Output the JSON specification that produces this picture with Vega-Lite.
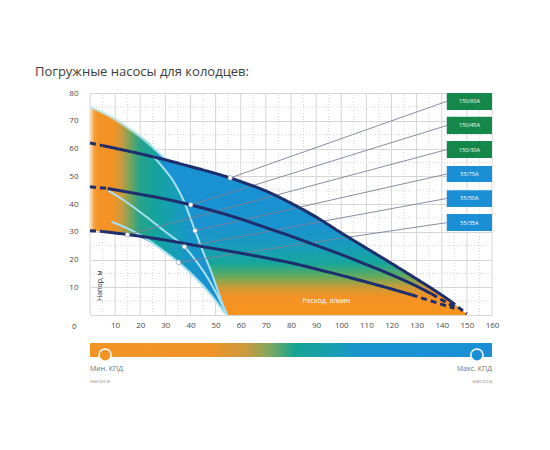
{
  "$schema": "https://vega.github.io/schema/vega-lite/v6.json",
  "padding": {"left": 35, "top": 66, "right": 5, "bottom": 5},
  "background": "white",
  "width": 402,
  "height": 297,
  "config": {
    "font": "Open Sans",
    "view": {"stroke": null}
  },
  "title": {
    "text": "Погружные насосы для колодцев:",
    "anchor": "start",
    "frame": "group",
    "dx": -55,
    "offset": 10,
    "fontSize": 13,
    "fontWeight": "normal",
    "font": "Open Sans",
    "color": "#3d3d3d"
  },
  "datasets": {
    "majorV": [
      {"x": 0, "y": 0, "y2": 80}, {"x": 10, "y": 0, "y2": 80}, {"x": 20, "y": 0, "y2": 80},
      {"x": 30, "y": 0, "y2": 80}, {"x": 40, "y": 0, "y2": 80}, {"x": 50, "y": 0, "y2": 80},
      {"x": 60, "y": 0, "y2": 80}, {"x": 70, "y": 0, "y2": 80}, {"x": 80, "y": 0, "y2": 80},
      {"x": 90, "y": 0, "y2": 80}, {"x": 100, "y": 0, "y2": 80}, {"x": 110, "y": 0, "y2": 80},
      {"x": 120, "y": 0, "y2": 80}, {"x": 130, "y": 0, "y2": 80}, {"x": 140, "y": 0, "y2": 80},
      {"x": 150, "y": 0, "y2": 80}, {"x": 160, "y": 0, "y2": 80}
    ],
    "minorV": [
      {"x": 5, "y": 0, "y2": 80}, {"x": 15, "y": 0, "y2": 80}, {"x": 25, "y": 0, "y2": 80},
      {"x": 35, "y": 0, "y2": 80}, {"x": 45, "y": 0, "y2": 80}, {"x": 55, "y": 0, "y2": 80},
      {"x": 65, "y": 0, "y2": 80}, {"x": 75, "y": 0, "y2": 80}, {"x": 85, "y": 0, "y2": 80},
      {"x": 95, "y": 0, "y2": 80}, {"x": 105, "y": 0, "y2": 80}, {"x": 115, "y": 0, "y2": 80},
      {"x": 125, "y": 0, "y2": 80}, {"x": 135, "y": 0, "y2": 80}, {"x": 145, "y": 0, "y2": 80},
      {"x": 155, "y": 0, "y2": 80}
    ],
    "minorH": [
      {"y": 5, "x": 0, "x2": 160}, {"y": 15, "x": 0, "x2": 160}, {"y": 25, "x": 0, "x2": 160},
      {"y": 35, "x": 0, "x2": 160}, {"y": 45, "x": 0, "x2": 160}, {"y": 55, "x": 0, "x2": 160},
      {"y": 65, "x": 0, "x2": 160}, {"y": 75, "x": 0, "x2": 160}
    ],
    "region": [
      {"x": 0, "y": 75, "y2": 30.4}, {"x": 5, "y": 73, "y2": 30.1}, {"x": 10, "y": 70.6, "y2": 29.6},
      {"x": 15, "y": 67.6, "y2": 28.9}, {"x": 20, "y": 64.4, "y2": 27.9}, {"x": 25, "y": 60.5, "y2": 25.6},
      {"x": 28.5, "y": 57.6, "y2": 23.4}, {"x": 31, "y": 55.6, "y2": 21.8}, {"x": 35, "y": 54.7, "y2": 19},
      {"x": 40, "y": 53.5, "y2": 14.8}, {"x": 45, "y": 52.3, "y2": 10.2}, {"x": 50, "y": 51, "y2": 5.2},
      {"x": 54, "y": 49.9, "y2": 1}, {"x": 55, "y": 49.6, "y2": 0}, {"x": 60, "y": 48.1, "y2": 0},
      {"x": 70, "y": 44.7, "y2": 0}, {"x": 80, "y": 40.3, "y2": 0}, {"x": 90, "y": 35.3, "y2": 0},
      {"x": 100, "y": 29.6, "y2": 0}, {"x": 110, "y": 24.1, "y2": 0}, {"x": 120, "y": 18.6, "y2": 0},
      {"x": 130, "y": 13, "y2": 0}, {"x": 140, "y": 7.2, "y2": 0}, {"x": 143.4, "y": 5.1, "y2": 0},
      {"x": 150, "y": 0.4, "y2": 0}
    ],
    "leftzone": [
      {"x": 0, "y": 75, "y2": 30.4}, {"x": 5, "y": 73, "y2": 30.1}, {"x": 10, "y": 70.6, "y2": 29.6},
      {"x": 15, "y": 67.6, "y2": 28.9}, {"x": 20, "y": 64.4, "y2": 27.9}, {"x": 25, "y": 60.5, "y2": 25.6},
      {"x": 27, "y": 57.5, "y2": 24.4}, {"x": 29, "y": 53, "y2": 23.1}, {"x": 33, "y": 48.5, "y2": 20.3},
      {"x": 37, "y": 41.8, "y2": 17.4}, {"x": 41.8, "y": 30.4, "y2": 13.4}, {"x": 45, "y": 22.8, "y2": 10.2},
      {"x": 47.8, "y": 16.6, "y2": 7.4}, {"x": 50.5, "y": 9.8, "y2": 4.7}, {"x": 53, "y": 3.4, "y2": 1.8},
      {"x": 54.5, "y": 0.2, "y2": 0.2}
    ],
    "edge": [
      {"x": 0, "y": 75}, {"x": 5, "y": 73}, {"x": 10, "y": 70.6}, {"x": 15, "y": 67.6},
      {"x": 20, "y": 64.4}, {"x": 25, "y": 60.5}, {"x": 28.5, "y": 57.6}, {"x": 31, "y": 55.6}
    ],
    "cyan": [
      {"c": "55/75A", "x": 25.5, "y": 56.8}, {"c": "55/75A", "x": 29, "y": 53.2}, {"c": "55/75A", "x": 33, "y": 48.5},
      {"c": "55/75A", "x": 37, "y": 41.8}, {"c": "55/75A", "x": 41.8, "y": 30.4}, {"c": "55/75A", "x": 45, "y": 22.8},
      {"c": "55/75A", "x": 47.8, "y": 16.6}, {"c": "55/75A", "x": 50.5, "y": 9.8}, {"c": "55/75A", "x": 53, "y": 3.4},
      {"c": "55/75A", "x": 54.5, "y": 0.2},
      {"c": "55/50A", "x": 7.3, "y": 44.8}, {"c": "55/50A", "x": 14, "y": 41}, {"c": "55/50A", "x": 21.9, "y": 35.8},
      {"c": "55/50A", "x": 30, "y": 30}, {"c": "55/50A", "x": 37.6, "y": 24.6}, {"c": "55/50A", "x": 43, "y": 18.5},
      {"c": "55/50A", "x": 47.1, "y": 13}, {"c": "55/50A", "x": 50.5, "y": 7.5}, {"c": "55/50A", "x": 53.5, "y": 2},
      {"c": "55/50A", "x": 54.5, "y": 0.2},
      {"c": "55/35A", "x": 8.6, "y": 33.6}, {"c": "55/35A", "x": 14, "y": 31.6}, {"c": "55/35A", "x": 19.3, "y": 29.2},
      {"c": "55/35A", "x": 24, "y": 26.6}, {"c": "55/35A", "x": 28.6, "y": 23.6}, {"c": "55/35A", "x": 35.2, "y": 19},
      {"c": "55/35A", "x": 41.8, "y": 13.6}, {"c": "55/35A", "x": 48.5, "y": 6.9}, {"c": "55/35A", "x": 53.8, "y": 0.5}
    ],
    "navy": [
      {"seg": "60a-0", "style": "dash", "x": 0, "y": 62}, {"seg": "60a-0", "style": "dash", "x": 5, "y": 61.05},
      {"seg": "60a-1", "style": "solid", "x": 5, "y": 61.05}, {"seg": "60a-1", "style": "solid", "x": 10, "y": 60.1},
      {"seg": "60a-1", "style": "solid", "x": 20, "y": 58.1}, {"seg": "60a-1", "style": "solid", "x": 30, "y": 55.9},
      {"seg": "60a-1", "style": "solid", "x": 40, "y": 53.5}, {"seg": "60a-1", "style": "solid", "x": 50, "y": 51},
      {"seg": "60a-1", "style": "solid", "x": 55.8, "y": 49.4}, {"seg": "60a-1", "style": "solid", "x": 60, "y": 48.1},
      {"seg": "60a-1", "style": "solid", "x": 70, "y": 44.7}, {"seg": "60a-1", "style": "solid", "x": 80, "y": 40.3},
      {"seg": "60a-1", "style": "solid", "x": 90, "y": 35.3}, {"seg": "60a-1", "style": "solid", "x": 100, "y": 29.6},
      {"seg": "60a-1", "style": "solid", "x": 110, "y": 24.1}, {"seg": "60a-1", "style": "solid", "x": 120, "y": 18.6},
      {"seg": "60a-1", "style": "solid", "x": 130, "y": 13}, {"seg": "60a-1", "style": "solid", "x": 140, "y": 7.2},
      {"seg": "60a-1", "style": "solid", "x": 143.4, "y": 5.1},
      {"seg": "60a-2", "style": "dash", "x": 143.4, "y": 5.1}, {"seg": "60a-2", "style": "dash", "x": 150, "y": 0.4},
      {"seg": "45a-0", "style": "dash", "x": 0, "y": 46.2}, {"seg": "45a-0", "style": "dash", "x": 7, "y": 45.6},
      {"seg": "45a-1", "style": "solid", "x": 7, "y": 45.6}, {"seg": "45a-1", "style": "solid", "x": 20, "y": 43.5},
      {"seg": "45a-1", "style": "solid", "x": 30, "y": 41.8}, {"seg": "45a-1", "style": "solid", "x": 40, "y": 39.7},
      {"seg": "45a-1", "style": "solid", "x": 50, "y": 37.3}, {"seg": "45a-1", "style": "solid", "x": 60, "y": 34.6},
      {"seg": "45a-1", "style": "solid", "x": 70, "y": 31.5}, {"seg": "45a-1", "style": "solid", "x": 80, "y": 28.4},
      {"seg": "45a-1", "style": "solid", "x": 90, "y": 25.1}, {"seg": "45a-1", "style": "solid", "x": 100, "y": 21.8},
      {"seg": "45a-1", "style": "solid", "x": 110, "y": 18.2}, {"seg": "45a-1", "style": "solid", "x": 120, "y": 14.5},
      {"seg": "45a-1", "style": "solid", "x": 130, "y": 10.4}, {"seg": "45a-1", "style": "solid", "x": 136, "y": 7.6},
      {"seg": "45a-2", "style": "dash", "x": 136, "y": 7.6}, {"seg": "45a-2", "style": "dash", "x": 146, "y": 2.4},
      {"seg": "30a-0", "style": "dash", "x": 0, "y": 30.4}, {"seg": "30a-0", "style": "dash", "x": 5, "y": 30.1},
      {"seg": "30a-1", "style": "solid", "x": 5, "y": 30.1}, {"seg": "30a-1", "style": "solid", "x": 15, "y": 29},
      {"seg": "30a-1", "style": "solid", "x": 30, "y": 27}, {"seg": "30a-1", "style": "solid", "x": 42.5, "y": 25},
      {"seg": "30a-1", "style": "solid", "x": 60, "y": 22.3}, {"seg": "30a-1", "style": "solid", "x": 70, "y": 20.6},
      {"seg": "30a-1", "style": "solid", "x": 80, "y": 18.8}, {"seg": "30a-1", "style": "solid", "x": 90, "y": 16.6},
      {"seg": "30a-1", "style": "solid", "x": 100, "y": 14.3}, {"seg": "30a-1", "style": "solid", "x": 110, "y": 11.9},
      {"seg": "30a-1", "style": "solid", "x": 120, "y": 9.4}, {"seg": "30a-1", "style": "solid", "x": 128, "y": 7.3},
      {"seg": "30a-2", "style": "dash", "x": 128, "y": 7.3}, {"seg": "30a-2", "style": "dash", "x": 145, "y": 2.4}
    ],
    "pumps": [
      {"pump": "150/60A", "grp": "150", "x": 55.8, "y": 49.4, "lo": 73.9, "hi": 80, "ly": 77},
      {"pump": "150/45A", "grp": "150", "x": 40.1, "y": 39.7, "lo": 65.2, "hi": 71.4, "ly": 68.3},
      {"pump": "150/30A", "grp": "150", "x": 14.9, "y": 28.9, "lo": 56.6, "hi": 62.7, "ly": 59.6},
      {"pump": "55/75A", "grp": "55", "x": 41.8, "y": 30.4, "lo": 47.9, "hi": 53.7, "ly": 50.8},
      {"pump": "55/50A", "grp": "55", "x": 37.6, "y": 24.6, "lo": 38.9, "hi": 45, "ly": 42},
      {"pump": "55/35A", "grp": "55", "x": 35.2, "y": 19, "lo": 30.3, "hi": 36.4, "ly": 33.3}
    ],
    "axisText": [
      {"t": "Напор, м", "kind": "head", "x": 4, "y": 10.6},
      {"t": "Расход, л/мин", "kind": "flow", "x": 94, "y": 5}
    ],
    "bar": [
      {"x": 0, "x2": 160, "y": -10.1, "y2": -15.1}
    ],
    "kpd": [
      {"grp": "min", "x": 6, "y": -14.4},
      {"grp": "max", "x": 154, "y": -14.4}
    ],
    "kpdText": [
      {"end": "min", "size": "big", "t": "Мин. КПД", "x": 0, "y": -19.5},
      {"end": "min", "size": "small", "t": "насоса", "x": 0, "y": -23.8},
      {"end": "max", "size": "big", "t": "Макс. КПД", "x": 160, "y": -19.5},
      {"end": "max", "size": "small", "t": "насоса", "x": 160, "y": -23.8}
    ]
  },
  "encoding": {
    "x": {
      "field": "x",
      "type": "quantitative",
      "scale": {"domain": [0, 160], "nice": false, "zero": false},
      "axis": {
        "values": [10, 20, 30, 40, 50, 60, 70, 80, 90, 100, 110, 120, 130, 140, 150, 160],
        "title": null,
        "grid": false,
        "ticks": false,
        "domain": false,
        "offset": -75,
        "labelFlush": false,
        "labelOverlap": false,
        "labelFontSize": 8,
        "labelColor": "#4a4a4a",
        "labelPadding": 6
      }
    },
    "y": {
      "field": "y",
      "type": "quantitative",
      "scale": {"domain": [-27, 80], "nice": false, "zero": false},
      "axis": {
        "values": [0, 10, 20, 30, 40, 50, 60, 70, 80],
        "title": null,
        "grid": true,
        "gridColor": "#d6d6d6",
        "ticks": false,
        "domain": false,
        "labelFontSize": 8,
        "labelColor": "#4a4a4a",
        "labelPadding": {"condition": {"test": "datum.value === 0", "value": 14}, "value": 12},
        "labelOffset": {"condition": {"test": "datum.value === 0", "value": 11}, "value": 0}
      }
    }
  },
  "layer": [
    {
      "data": {"name": "majorV"},
      "mark": {"type": "rule", "color": "#d6d6d6", "strokeWidth": 1},
      "encoding": {"y2": {"field": "y2"}}
    },
    {
      "data": {"name": "minorV"},
      "mark": {"type": "rule", "color": "#d4d4d4", "strokeDash": [1, 2], "strokeWidth": 1},
      "encoding": {"y2": {"field": "y2"}}
    },
    {
      "data": {"name": "minorH"},
      "mark": {"type": "rule", "color": "#d4d4d4", "strokeDash": [1, 2], "strokeWidth": 1},
      "encoding": {"x2": {"field": "x2"}}
    },
    {
      "data": {"name": "region"},
      "mark": {
        "type": "area",
        "interpolate": "monotone",
        "opacity": 1,
        "color": {
          "gradient": "linear", "x1": 0, "y1": 0, "x2": 0, "y2": 1,
          "stops": [
            {"offset": 0, "color": "#1b8fd6"},
            {"offset": 0.57, "color": "#1a93d0"},
            {"offset": 0.67, "color": "#199cbd"},
            {"offset": 0.75, "color": "#16a69c"},
            {"offset": 0.81, "color": "#5cab60"},
            {"offset": 0.865, "color": "#c99b38"},
            {"offset": 0.91, "color": "#f39325"},
            {"offset": 1, "color": "#f7941d"}
          ]
        }
      },
      "encoding": {"y2": {"field": "y2"}}
    },
    {
      "data": {"name": "leftzone"},
      "mark": {
        "type": "area",
        "interpolate": "monotone",
        "opacity": 1,
        "color": {
          "gradient": "linear", "x1": 0, "y1": 0, "x2": 1, "y2": 0,
          "stops": [
            {"offset": 0, "color": "#fde6c8"},
            {"offset": 0.03, "color": "#f6a040"},
            {"offset": 0.06, "color": "#f39325"},
            {"offset": 0.17, "color": "#f39325"},
            {"offset": 0.23, "color": "#c99a3e"},
            {"offset": 0.29, "color": "#7aa45a"},
            {"offset": 0.36, "color": "#2aa38a"},
            {"offset": 0.46, "color": "#15a39a"},
            {"offset": 0.6, "color": "#169fb4"},
            {"offset": 0.75, "color": "#1995cc"},
            {"offset": 1, "color": "#1b8fd6"}
          ]
        }
      },
      "encoding": {"y2": {"field": "y2"}}
    },
    {
      "data": {"name": "edge"},
      "mark": {"type": "line", "interpolate": "monotone", "color": "#c4ecf6", "strokeWidth": 3, "opacity": 0.7},
      "encoding": {}
    },
    {
      "data": {"name": "cyan"},
      "mark": {"type": "line", "interpolate": "monotone", "color": "#a6e1f1", "strokeWidth": 2},
      "encoding": {"detail": {"field": "c"}}
    },
    {
      "data": {"name": "pumps"},
      "mark": {"type": "rule", "color": "#7a7f96", "strokeWidth": 0.9},
      "encoding": {"x2": {"datum": 142}, "y2": {"field": "ly"}}
    },
    {
      "data": {"name": "navy"},
      "mark": {"type": "line", "interpolate": "monotone", "color": "#1d2e6e", "strokeWidth": 3},
      "encoding": {
        "detail": {"field": "seg"},
        "strokeDash": {
          "field": "style",
          "type": "nominal",
          "scale": {"domain": ["solid", "dash"], "range": [[1, 0], [6, 4]]},
          "legend": null
        }
      }
    },
    {
      "data": {"name": "pumps"},
      "mark": {"type": "point", "shape": "circle", "filled": true, "color": "white", "opacity": 1, "size": 22, "stroke": "#6d7aa0", "strokeWidth": 0.5},
      "encoding": {}
    },
    {
      "data": {"name": "pumps"},
      "mark": {"type": "rect", "opacity": 1},
      "encoding": {
        "x": {"datum": 142},
        "x2": {"datum": 160},
        "y": {"field": "lo", "type": "quantitative"},
        "y2": {"field": "hi"},
        "color": {
          "field": "grp",
          "type": "nominal",
          "scale": {"domain": ["150", "55", "min", "max"], "range": ["#14884a", "#1b8fd6", "#f39325", "#1b8fd6"]},
          "legend": null
        }
      }
    },
    {
      "data": {"name": "pumps"},
      "mark": {"type": "text", "color": "white", "fontSize": 5.5, "align": "center", "baseline": "middle"},
      "encoding": {
        "x": {"datum": 151},
        "y": {"field": "ly", "type": "quantitative"},
        "text": {"field": "pump"}
      }
    },
    {
      "data": {"name": "axisText"},
      "transform": [{"filter": "datum.kind === 'head'"}],
      "mark": {"type": "text", "angle": 270, "color": "#333333", "fontSize": 7, "align": "center", "baseline": "middle"},
      "encoding": {"text": {"field": "t"}}
    },
    {
      "data": {"name": "axisText"},
      "transform": [{"filter": "datum.kind === 'flow'"}],
      "mark": {"type": "text", "color": "white", "fontSize": 7, "align": "center", "baseline": "middle"},
      "encoding": {"text": {"field": "t"}}
    },
    {
      "data": {"name": "bar"},
      "mark": {
        "type": "rect",
        "opacity": 1,
        "color": {
          "gradient": "linear", "x1": 0, "y1": 0, "x2": 1, "y2": 0,
          "stops": [
            {"offset": 0, "color": "#f39325"},
            {"offset": 0.3, "color": "#f09427"},
            {"offset": 0.39, "color": "#c99a40"},
            {"offset": 0.45, "color": "#7aa860"},
            {"offset": 0.51, "color": "#14a394"},
            {"offset": 0.6, "color": "#169fb0"},
            {"offset": 0.68, "color": "#1993cf"},
            {"offset": 1, "color": "#1b8fd6"}
          ]
        }
      },
      "encoding": {"x2": {"field": "x2"}, "y2": {"field": "y2"}}
    },
    {
      "data": {"name": "kpd"},
      "mark": {"type": "point", "shape": "circle", "filled": true, "opacity": 1, "size": 150, "stroke": "white", "strokeWidth": 1.5},
      "encoding": {
        "color": {
          "field": "grp",
          "type": "nominal",
          "scale": {"domain": ["150", "55", "min", "max"], "range": ["#14884a", "#1b8fd6", "#f39325", "#1b8fd6"]},
          "legend": null
        }
      }
    },
    {
      "data": {"name": "kpdText"},
      "transform": [{"filter": "datum.end === 'min' && datum.size === 'big'"}],
      "mark": {"type": "text", "align": "left", "baseline": "middle", "fontSize": 7, "color": "#707070"},
      "encoding": {"text": {"field": "t"}}
    },
    {
      "data": {"name": "kpdText"},
      "transform": [{"filter": "datum.end === 'min' && datum.size === 'small'"}],
      "mark": {"type": "text", "align": "left", "baseline": "middle", "fontSize": 6, "color": "#9a9a9a"},
      "encoding": {"text": {"field": "t"}}
    },
    {
      "data": {"name": "kpdText"},
      "transform": [{"filter": "datum.end === 'max' && datum.size === 'big'"}],
      "mark": {"type": "text", "align": "right", "baseline": "middle", "fontSize": 7, "color": "#707070"},
      "encoding": {"text": {"field": "t"}}
    },
    {
      "data": {"name": "kpdText"},
      "transform": [{"filter": "datum.end === 'max' && datum.size === 'small'"}],
      "mark": {"type": "text", "align": "right", "baseline": "middle", "fontSize": 6, "color": "#9a9a9a"},
      "encoding": {"text": {"field": "t"}}
    }
  ]
}
